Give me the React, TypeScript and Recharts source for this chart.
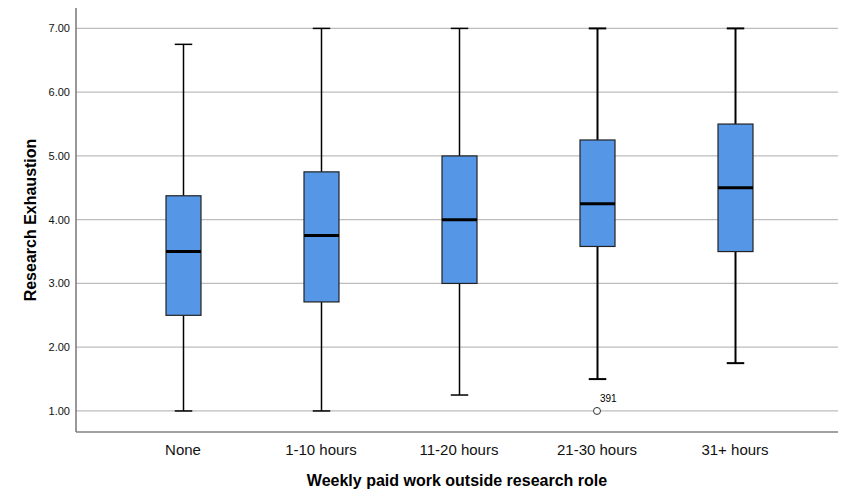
import { ComposedChart, Bar, Scatter, XAxis, YAxis, ReferenceLine, Label } from 'recharts';

// Weekly paid work categories and five-number summaries
const categories = ['None', '1-10 hours', '11-20 hours', '21-30 hours', '31+ hours'];
const whiskerLow = [1.0, 1.0, 1.25, 1.5, 1.75];
const quartile1 = [2.5, 2.71, 3.0, 3.58, 3.5];
const medians = [3.5, 3.75, 4.0, 4.25, 4.5];
const quartile3 = [4.375, 4.75, 5.0, 5.25, 5.5];
const whiskerHigh = [6.75, 7.0, 7.0, 7.0, 7.0];
const outliers: (number | null)[] = [null, null, null, 1.0, null];
const outlierIds: (string | null)[] = [null, null, null, '391', null];
const yTicks = [1, 2, 3, 4, 5, 6, 7];

const data = categories.map((name, i) => ({
  name,
  min: whiskerLow[i],
  q1: quartile1[i],
  median: medians[i],
  q3: quartile3[i],
  max: whiskerHigh[i],
  outlier: outliers[i],
  outlierId: outlierIds[i],
}));

const FONT = 'Arial, "Liberation Sans", sans-serif';
const BOX_FILL = '#5596e6';

// draws box, median and whiskers; uses the bar's own pixel range to map values
const BoxShape = (props: any) => {
  const { x, y, width, height, payload, index } = props;
  const top = Math.min(y, y + height);
  const h = Math.abs(height);
  const perUnit = h / (payload.q3 - payload.q1);
  const toY = (v: number) => top + (payload.q3 - v) * perUnit;
  const cx = x + width / 2;
  const cap = width / 4;
  const lw = index >= 3 ? 2 : 1.5;
  return (
    <g>
      <line x1={cx} x2={cx} y1={toY(payload.max)} y2={top} stroke="#000" strokeWidth={lw} />
      <line x1={cx} x2={cx} y1={top + h} y2={toY(payload.min)} stroke="#000" strokeWidth={lw} />
      <line x1={cx - cap} x2={cx + cap} y1={toY(payload.max)} y2={toY(payload.max)} stroke="#000" strokeWidth={lw} />
      <line x1={cx - cap} x2={cx + cap} y1={toY(payload.min)} y2={toY(payload.min)} stroke="#000" strokeWidth={lw} />
      <rect x={x} y={top} width={width} height={h} fill={BOX_FILL} stroke="#222" strokeWidth={1.2} />
      <line x1={x} x2={x + width} y1={toY(payload.median)} y2={toY(payload.median)} stroke="#000" strokeWidth={3} />
    </g>
  );
};

const OutlierShape = (props: any) => {
  const { cx, cy, payload } = props;
  if (payload == null || payload.outlier == null || cx == null || cy == null) return null;
  return (
    <g>
      <circle cx={cx} cy={cy} r={3.5} fill="#fff" stroke="#333" strokeWidth={1} />
      <text x={cx + 3} y={cy - 9} fontSize={10} fontFamily={FONT} fill="#000">{payload.outlierId}</text>
    </g>
  );
};

const YTitle = (props: any) => {
  const { viewBox } = props;
  const cy = viewBox.y + viewBox.height / 2;
  return (
    <text x={22} y={cy} transform={`rotate(-90, 22, ${cy})`} textAnchor="middle" dominantBaseline="central"
      fontSize={16} fontWeight="bold" fontFamily={FONT} fill="#000">
      Research Exhaustion
    </text>
  );
};

const XTitle = (props: any) => {
  const { viewBox } = props;
  const cx = viewBox.x + viewBox.width / 2;
  return (
    <text x={cx} y={472} textAnchor="middle" dominantBaseline="central"
      fontSize={16} fontWeight="bold" fontFamily={FONT} fill="#000">
      Weekly paid work outside research role
    </text>
  );
};

export default function App() {
  return (
    <div style={{ width: 846, height: 488, background: '#fff' }}>
      <ComposedChart width={846} height={488} data={data} margin={{ top: 0, right: 16, bottom: 0, left: 0 }}>
        <XAxis
          dataKey="name"
          height={64}
          padding={{ left: 38, right: 34 }}
          tickLine={false}
          axisLine={{ stroke: '#444', strokeWidth: 1.2 }}
          tick={{ fontSize: 15, fontFamily: FONT, fill: '#111' }}
          tickMargin={6}
          interval={0}
        >
          <Label content={<XTitle />} />
        </XAxis>
        <YAxis
          type="number"
          domain={[0.67, 7.32]}
          allowDataOverflow
          ticks={yTicks}
          width={68}
          tickLine={false}
          tickSize={4}
          tickMargin={2}
          axisLine={{ stroke: '#777', strokeWidth: 1.5 }}
          tick={{ fontSize: 11, fontFamily: FONT, fill: '#111' }}
          tickFormatter={(v: number) => v.toFixed(2)}
        >
          <Label content={<YTitle />} />
        </YAxis>
        {yTicks.map((v) => (
          <ReferenceLine key={v} y={v} stroke="#bdbdbd" strokeWidth={1.2} zIndex={-100} />
        ))}
        <Bar dataKey={(d: any) => [d.q1, d.q3]} barSize={35} shape={<BoxShape />} isAnimationActive={false} />
        <Scatter dataKey="outlier" shape={<OutlierShape />} isAnimationActive={false} />
      </ComposedChart>
    </div>
  );
}
